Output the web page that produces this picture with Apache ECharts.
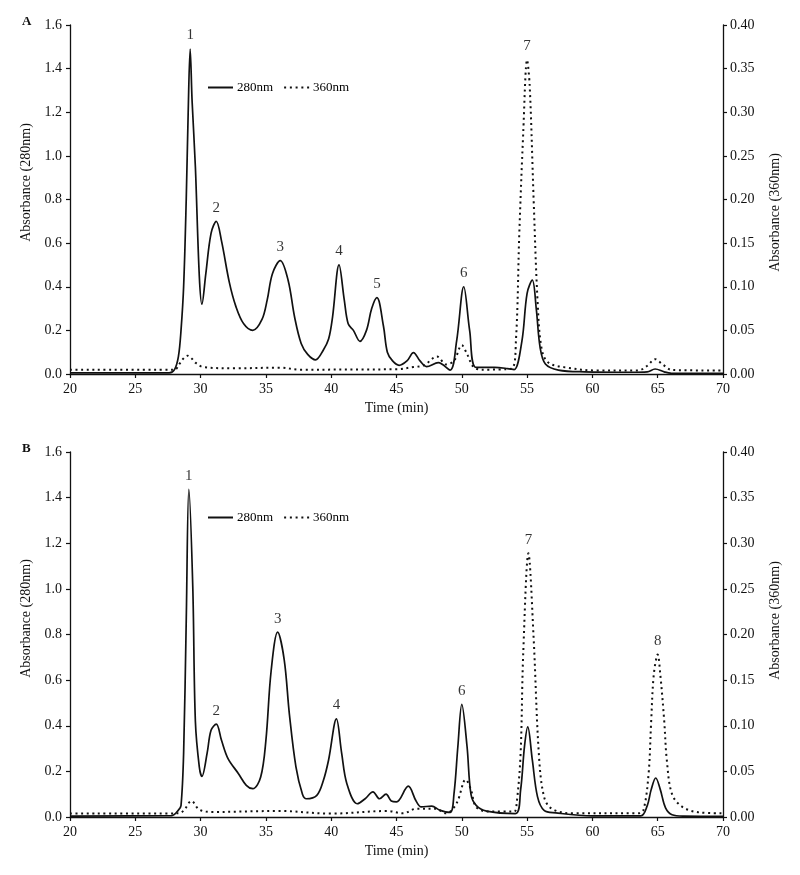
<!DOCTYPE html>
<html>
<head>
<meta charset="utf-8">
<title>Chromatograms A and B</title>
<script src="https://cdn.jsdelivr.net/npm/echarts@6/dist/echarts.min.js"></script>
<style>
  html, body { margin: 0; padding: 0; background: #fff; }
  #chart { width: 800px; height: 875px; }
</style>
</head>
<body>
<div id="chart"></div>
<script>
// panel A, 280 nm (left axis)
const timeA280 = [20, 27.6, 28.0, 28.3, 28.5, 28.7, 28.9, 29.05, 29.2, 29.35, 29.6, 29.9, 30.1, 30.4, 30.8, 31.2, 31.6, 32.2, 32.7, 33.3, 34.0, 34.7, 35.1, 35.5, 36.1, 36.7, 37.2, 37.7, 38.2, 38.8, 39.4, 39.8, 40.1, 40.6, 41.0, 41.3, 41.7, 42.2, 42.7, 43.1, 43.5, 44.0, 44.3, 44.7, 45.2, 45.8, 46.3, 46.8, 47.3, 48.2, 49.1, 49.6, 50.15, 50.6, 51.1, 52.5, 53.5, 54.0, 54.6, 55.0, 55.4, 55.7, 56.0, 56.4, 57.4, 59.4, 63.0, 64.2, 64.8, 65.5, 66.0, 70];
const absA280 = [0.005, 0.005, 0.02, 0.08, 0.2, 0.4, 0.8, 1.2, 1.49, 1.25, 0.95, 0.45, 0.32, 0.46, 0.645, 0.70, 0.61, 0.42, 0.31, 0.23, 0.20, 0.25, 0.34, 0.46, 0.52, 0.43, 0.26, 0.14, 0.09, 0.065, 0.11, 0.16, 0.26, 0.50, 0.34, 0.23, 0.20, 0.15, 0.20, 0.30, 0.35, 0.22, 0.10, 0.06, 0.04, 0.06, 0.098, 0.06, 0.034, 0.052, 0.018, 0.15, 0.40, 0.2, 0.03, 0.03, 0.025, 0.02, 0.15, 0.37, 0.43, 0.3, 0.12, 0.046, 0.018, 0.01, 0.008, 0.01, 0.023, 0.01, 0.004, 0.003];

// panel A, 360 nm (right axis)
const timeA360 = [20, 28.0, 28.4, 28.7, 29.0, 29.3, 29.6, 30.2, 32.5, 36.1, 37.6, 45.0, 46.3, 47.1, 48.1, 48.8, 49.4, 50.0, 50.4, 50.9, 51.5, 53.8, 54.15, 54.4, 54.7, 55.0, 55.2, 55.5, 55.8, 56.1, 56.6, 57.9, 60.4, 63.5, 64.2, 64.8, 65.4, 66.1, 70];
const absA360 = [0.005, 0.005, 0.012, 0.018, 0.021, 0.018, 0.013, 0.008, 0.0065, 0.0073, 0.005, 0.0055, 0.0080, 0.01, 0.02, 0.011, 0.015, 0.033, 0.023, 0.008, 0.005, 0.006, 0.04, 0.16, 0.275, 0.36, 0.33, 0.2, 0.084, 0.03, 0.0134, 0.0076, 0.004, 0.004, 0.0095, 0.017, 0.0107, 0.0046, 0.004];

// panel B, 280 nm (left axis)
const timeB280 = [20, 27.8, 28.3, 28.5, 28.7, 28.9, 29.1, 29.4, 29.6, 29.9, 30.1, 30.5, 30.8, 31.2, 31.6, 32.1, 32.9, 33.5, 34.0, 34.6, 35.0, 35.4, 35.9, 36.4, 36.8, 37.3, 37.8, 38.1, 38.9, 39.4, 39.8, 40.4, 40.8, 41.2, 42.0, 42.6, 43.2, 43.7, 44.2, 44.6, 45.0, 45.9, 46.5, 46.9, 47.7, 48.3, 49.1, 49.4, 49.7, 50.0, 50.4, 50.7, 51.1, 51.9, 54.1, 54.5, 54.8, 55.05, 55.4, 55.8, 56.3, 57.2, 60, 63.7, 64.2, 64.5, 64.85, 65.2, 65.6, 66.1, 67, 70];
const absB280 = [0.004, 0.006, 0.03, 0.05, 0.28, 0.86, 1.436, 1.01, 0.42, 0.22, 0.178, 0.28, 0.38, 0.407, 0.336, 0.256, 0.19, 0.139, 0.124, 0.175, 0.336, 0.64, 0.81, 0.69, 0.45, 0.22, 0.10, 0.08, 0.095, 0.16, 0.25, 0.43, 0.28, 0.146, 0.058, 0.08, 0.11, 0.08, 0.1, 0.07, 0.066, 0.135, 0.07, 0.044, 0.048, 0.03, 0.02, 0.1, 0.31, 0.494, 0.31, 0.1, 0.051, 0.026, 0.015, 0.117, 0.31, 0.395, 0.25, 0.088, 0.029, 0.018, 0.005, 0.005, 0.05, 0.12, 0.171, 0.12, 0.04, 0.01, 0.004, 0.003];

// panel B, 360 nm (right axis)
const timeB360 = [20, 28.3, 28.7, 29.3, 29.9, 30.9, 36.0, 40, 44.3, 45.5, 46.5, 48.0, 48.8, 49.6, 50.3, 50.7, 51.1, 52, 54.0, 54.2, 54.5, 54.7, 55.1, 55.5, 55.9, 56.3, 56.9, 58.5, 63.5, 63.9, 64.3, 64.5, 64.7, 65.0, 65.2, 65.5, 65.7, 66.1, 66.9, 68.2, 70];
const absB360 = [0.0037, 0.004, 0.007, 0.0175, 0.008, 0.0055, 0.0066, 0.0037, 0.0066, 0.004, 0.009, 0.009, 0.004, 0.015, 0.041, 0.03, 0.011, 0.006, 0.006, 0.015, 0.069, 0.178, 0.289, 0.196, 0.069, 0.022, 0.009, 0.004, 0.004, 0.007, 0.047, 0.105, 0.156, 0.178, 0.156, 0.105, 0.062, 0.025, 0.011, 0.005, 0.004];

// peak numbers: [time, absorbance, label]
const peaksA280 = [[29.2, 1.49, '1'], [31.2, 0.70, '2'], [36.1, 0.52, '3'], [40.6, 0.50, '4'], [43.5, 0.35, '5'], [50.15, 0.40, '6']];
const peaksA360 = [[55.0, 0.36, '7']];
const peaksB280 = [[29.1, 1.436, '1'], [31.2, 0.407, '2'], [35.9, 0.81, '3'], [40.4, 0.43, '4'], [50.0, 0.494, '6']];
const peaksB360 = [[55.1, 0.289, '7'], [65.0, 0.178, '8']];

const timeTicks = { min: 20, max: 70, interval: 5 };
const leftTicks = { min: 0, max: 1.6, interval: 0.2 };
const rightTicks = { min: 0, max: 0.4, interval: 0.05 };

const ink = '#111';
const serif = '"Liberation Serif", "DejaVu Serif", serif';

// legend glyphs: a plain stroke and a row of dots
const solidIcon = 'path://M0,0H25V2H0Z';
const dottedIcon = 'path://M0,0h2v2h-2zM5.75,0h2v2h-2zM11.5,0h2v2h-2zM17.25,0h2v2h-2zM23,0h2v2h-2z';

const zip = (xs, ys) => xs.map((x, i) => [x, ys[i]]);

const axisCommon = {
    axisLine: { show: true, onZero: false, lineStyle: { color: ink, width: 1.3 } },
    axisTick: { show: true, inside: false, length: 4, lineStyle: { color: ink, width: 1.2 } },
    axisLabel: { color: ink, fontFamily: serif, fontSize: 14 },
    splitLine: { show: false },
    nameTextStyle: { color: ink, fontFamily: serif, fontSize: 14 }
}

function xAxisFor(grid) {
    return {
        ...axisCommon,
        type: 'value',
        gridIndex: grid,
        ...timeTicks,
        name: 'Time (min)',
        nameLocation: 'middle',
        nameGap: 27,
        axisLabel: { ...axisCommon.axisLabel, margin: 8 }
    }
}

function leftAxis(grid, pad) {
    return {
        ...axisCommon,
        type: 'value',
        gridIndex: grid,
        position: 'left',
        ...leftTicks,
        name: 'Absorbance (280nm)',
        nameLocation: 'middle',
        nameRotate: 90,
        nameGap: 32,
        nameTextStyle: { ...axisCommon.nameTextStyle, padding: pad },
        axisLabel: { ...axisCommon.axisLabel, margin: 8, formatter: v => v.toFixed(1) }
    }
}

function rightAxis(grid, pad) {
    return {
        ...axisCommon,
        type: 'value',
        gridIndex: grid,
        position: 'right',
        ...rightTicks,
        name: 'Absorbance (360nm)',
        nameLocation: 'middle',
        nameRotate: 90,
        nameGap: 45,
        nameTextStyle: { ...axisCommon.nameTextStyle, padding: pad },
        axisLabel: { ...axisCommon.axisLabel, margin: 7, formatter: v => v.toFixed(2) }
    }
}

function trace(name, xIdx, yIdx, data, dotted) {
    return {
        name: name,
        type: 'line',
        xAxisIndex: xIdx,
        yAxisIndex: yIdx,
        data: data,
        smooth: 0.35,
        symbol: 'none',
        silent: true,
        z: dotted ? 3 : 4,
        lineStyle: { color: ink, width: dotted ? 2 : 1.7, type: dotted ? [2, 3.6] : 'solid' },
        itemStyle: { color: ink }
    }
}

function peakLabels(xIdx, yIdx, peaks) {
    return {
        type: 'scatter',
        xAxisIndex: xIdx,
        yAxisIndex: yIdx,
        symbolSize: 0,
        silent: true,
        data: peaks.map(p => ({ value: [p[0], p[1]], name: p[2] })),
        label: {
            show: true,
            position: 'top',
            distance: 6,
            formatter: p => p.name,
            color: '#000',
            fontFamily: serif,
            fontSize: 15
        }
    }
}

function legendFor(top) {
    return {
        data: [
            { name: '280nm', icon: solidIcon },
            { name: '360nm', icon: dottedIcon }
        ],
        left: 203,
        top: top,
        itemWidth: 25,
        itemHeight: 2,
        itemGap: 11,
        symbolKeepAspect: false,
        selectedMode: false,
        itemStyle: { color: ink, borderWidth: 0 },
        textStyle: { color: '#000', fontFamily: serif, fontSize: 13, padding: [0, 0, 0, -1] }
    }
}

const chart = echarts.init(document.getElementById('chart'))
chart.setOption({
    animation: false,
    backgroundColor: '#fff',
    grid: [
        { left: 70, right: 77, top: 25, height: 349 },
        { left: 70, right: 77, top: 452, height: 365 }
    ],
    legend: [legendFor(76), legendFor(506)],
    graphic: [
        { type: 'text', left: 22, top: 15, style: { text: 'A', font: 'bold 13px ' + serif, fill: ink } },
        { type: 'text', left: 22, top: 442, style: { text: 'B', font: 'bold 13px ' + serif, fill: ink } }
    ],
    xAxis: [xAxisFor(0), xAxisFor(1)],
    yAxis: [
        leftAxis(0, [0, 0, 0, 34]),
        rightAxis(0, [0, 26, 0, 0]),
        leftAxis(1, [0, 0, 0, 32]),
        rightAxis(1, [0, 0, 0, 28])
    ],
    series: [
        trace('280nm', 0, 0, zip(timeA280, absA280), false),
        trace('360nm', 0, 1, zip(timeA360, absA360), true),
        trace('280nm', 1, 2, zip(timeB280, absB280), false),
        trace('360nm', 1, 3, zip(timeB360, absB360), true),
        peakLabels(0, 0, peaksA280),
        peakLabels(0, 1, peaksA360),
        peakLabels(1, 2, peaksB280),
        peakLabels(1, 3, peaksB360)
    ]
})
</script>
</body>
</html>
